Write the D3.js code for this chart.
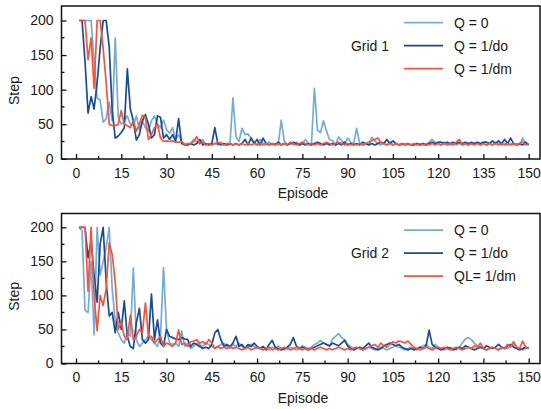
<!DOCTYPE html>
<html>
<head>
<meta charset="utf-8">
<script src="https://cdn.jsdelivr.net/npm/d3@7"></script>
<style>
  body { margin: 0; background: #fff; }
  svg { display: block; font-family: "Liberation Sans", Arial, sans-serif; }
  .tick text { font-size: 14px; fill: #1a1a1a; }
</style>
</head>
<body>
<svg id="chart" width="541" height="409"></svg>
<script>
// episodes 1..150
const episodes = d3.range(1, 151);
const xTicks = d3.range(0, 151, 15);
const yTicks = [0, 50, 100, 150, 200];

// Grid 1
const grid1Q0 = [
  200,200,200,200,200,140,88,85,53,58,
  82,55,175,60,50,55,62,50,48,62,
  42,55,45,40,55,62,50,45,56,42,
  37,45,28,35,25,22,20,22,28,25,
  22,28,20,22,20,22,20,24,20,22,
  20,88,32,25,44,35,36,30,24,20,
  28,22,20,24,20,22,20,56,26,20,
  22,20,24,20,22,28,22,20,102,42,
  38,55,40,28,26,20,32,26,22,30,
  24,22,44,22,20,22,20,31,26,22,
  20,22,20,24,20,22,20,20,22,20,
  21,20,22,20,22,20,24,28,24,22,
  20,24,22,20,22,20,22,20,22,20,
  22,20,24,20,22,20,22,20,24,22,
  20,22,20,22,20,22,20,30,22,20
];
const grid1Qdo = [
  200,200,140,66,90,72,110,160,200,200,
  162,70,30,33,38,45,130,72,55,27,
  35,55,64,50,30,35,62,60,30,35,
  28,35,25,58,22,20,20,22,20,22,
  28,20,22,20,22,45,22,20,22,20,
  22,20,22,20,22,28,20,30,22,28,
  20,30,22,20,22,20,24,20,22,20,
  22,24,22,20,22,20,22,20,22,24,
  22,20,22,20,22,20,22,20,24,20,
  22,20,22,20,24,22,20,22,20,22,
  24,22,28,22,26,22,20,22,20,22,
  20,20,22,20,22,20,22,24,22,24,
  24,22,24,22,24,22,24,22,24,22,
  24,22,24,22,24,24,22,26,22,26,
  22,28,22,30,22,20,22,20,24,20
];
const grid1Qdm = [
  200,200,200,143,175,102,200,200,160,110,
  50,48,48,50,70,50,48,45,55,40,
  50,63,60,28,35,45,50,30,25,26,
  25,26,24,24,25,20,22,22,25,32,
  22,24,20,22,20,22,24,22,20,22,
  22,20,22,20,22,20,22,20,22,20,
  22,20,22,20,22,20,22,20,22,20,
  24,22,20,22,24,22,20,22,20,22,
  20,22,24,22,20,22,24,22,20,22,
  20,22,20,22,20,22,24,26,28,30,
  24,22,20,22,20,22,20,22,20,22,
  20,22,20,22,20,22,20,22,20,22,
  20,22,20,22,20,24,28,20,22,20,
  22,20,22,20,22,20,22,20,22,20,
  22,20,22,20,22,20,22,24,20,22
];

// Grid 2
const grid2Q0 = [
  200,195,78,75,150,42,200,130,150,170,
  200,110,60,45,35,30,45,40,140,35,
  25,30,35,40,35,30,25,40,141,50,
  30,28,30,25,48,25,30,22,25,30,
  28,25,30,28,25,22,25,28,30,25,
  22,28,25,30,25,22,24,28,25,22,
  22,24,22,20,24,22,26,22,20,22,
  24,22,20,22,26,24,22,24,28,30,
  34,30,28,25,36,40,44,38,35,28,
  25,22,24,22,20,22,24,22,20,22,
  24,22,20,22,24,26,24,22,20,22,
  24,22,20,24,26,28,24,22,28,24,
  22,20,22,24,22,20,24,30,36,38,
  35,30,26,24,22,20,22,24,22,20,
  22,24,22,26,28,24,22,20,22,24
];
const grid2Qdo = [
  200,200,200,155,180,130,90,175,200,120,
  70,75,45,75,50,92,40,25,22,60,
  81,35,30,35,102,35,64,30,25,50,
  40,38,36,35,38,36,35,25,30,28,
  25,22,24,22,28,45,50,35,25,28,
  25,30,40,25,28,22,28,25,30,25,
  22,25,20,28,34,24,22,20,22,24,
  28,38,26,22,24,22,20,22,24,26,
  28,30,28,26,30,28,26,30,34,26,
  22,20,22,24,22,26,30,24,22,20,
  22,26,28,30,28,26,28,24,22,20,
  22,20,22,24,22,26,49,28,24,22,
  20,22,24,22,20,22,24,22,26,24,
  22,20,22,24,22,26,24,22,24,28,
  24,22,26,28,24,22,20,22,24,22
];
const grid2Qdm = [
  200,200,200,106,200,100,48,100,85,110,
  177,160,120,50,60,40,35,71,35,40,
  50,45,89,40,40,30,35,40,25,30,
  28,25,30,49,28,30,25,32,33,35,
  30,32,28,35,30,22,25,22,24,22,
  25,22,24,22,20,22,24,20,22,24,
  22,20,22,24,20,22,20,22,24,22,
  20,22,24,22,20,22,20,22,20,22,
  24,22,20,22,20,22,24,22,20,22,
  20,22,24,22,20,22,24,26,28,24,
  30,26,24,28,32,30,33,32,30,33,
  28,24,22,20,22,24,22,20,22,24,
  22,24,22,20,22,24,22,20,22,24,
  22,26,24,30,22,20,22,24,22,20,
  24,22,28,24,32,24,22,33,24,22
];

const colors = ["#74acd8", "#1a4b94", "#f4553c"];

const panels = [
  { name: "Grid 1", top: 6, bottom: 159, y0: 158.8, y200: 20.5,
    series: [grid1Q0, grid1Qdo, grid1Qdm], labels: ["Q = 0", "Q = 1/do", "Q = 1/dm"] },
  { name: "Grid 2", top: 213.5, bottom: 363.5, y0: 363.5, y200: 227.3,
    series: [grid2Q0, grid2Qdo, grid2Qdm], labels: ["Q = 0", "Q = 1/do", "QL= 1/dm"] }
];

const svg = d3.select("#chart");
const left = 61.5, right = 540;
const x = d3.scaleLinear().domain([0, 150]).range([76, 528.7]);

panels.forEach(p => {
  const y = d3.scaleLinear().domain([0, 200]).range([p.y0, p.y200]);
  const g = svg.append("g");

  // minor ticks
  g.selectAll(".xminor").data(d3.range(7.5, 150, 15)).enter().append("line")
    .attr("x1", d => x(d)).attr("x2", d => x(d))
    .attr("y1", p.bottom).attr("y2", p.bottom - 3)
    .attr("stroke", "#111").attr("stroke-width", 1.3);
  g.selectAll(".yminor").data(d3.range(25, 200, 50)).enter().append("line")
    .attr("x1", left).attr("x2", left + 3)
    .attr("y1", d => y(d)).attr("y2", d => y(d))
    .attr("stroke", "#111").attr("stroke-width", 1.3);

  const xAxis = g.append("g")
    .attr("transform", `translate(0,${p.bottom})`)
    .call(d3.axisBottom(x).tickValues(xTicks).tickSize(-5).tickPadding(9));
  const yAxis = g.append("g")
    .attr("transform", `translate(${left},0)`)
    .call(d3.axisLeft(y).tickValues(yTicks).tickSize(-5).tickPadding(8));
  [xAxis, yAxis].forEach(a => {
    a.select(".domain").remove();
    a.selectAll(".tick line").attr("stroke", "#111").attr("stroke-width", 1.3);
  });

  // lines
  const line = d3.line().x((d, i) => x(episodes[i])).y(d => y(d));
  p.series.forEach((s, i) => {
    g.append("path").datum(s)
      .attr("fill", "none")
      .attr("stroke", colors[i])
      .attr("stroke-width", 1.7)
      .attr("stroke-linejoin", "round")
      .attr("d", line);
  });

  // frame
  g.append("rect")
    .attr("x", left).attr("y", p.top)
    .attr("width", right - left).attr("height", p.bottom - p.top)
    .attr("fill", "none").attr("stroke", "#111").attr("stroke-width", 1.5);

  // legend
  const ly = p.top + 16.7;
  p.labels.forEach((lab, i) => {
    const yy = ly + i * 23;
    g.append("line")
      .attr("x1", 404).attr("x2", 443).attr("y1", yy).attr("y2", yy)
      .attr("stroke", colors[i]).attr("stroke-width", 1.8);
    g.append("text")
      .attr("x", 454).attr("y", yy).attr("dy", "0.35em")
      .attr("font-size", 14).attr("fill", "#1a1a1a")
      .text(lab);
  });
  g.append("text")
    .attr("x", 389).attr("y", ly + 23).attr("dy", "0.35em")
    .attr("text-anchor", "end").attr("font-size", 14).attr("fill", "#1a1a1a")
    .text(p.name);

  // axis titles
  g.append("text")
    .attr("x", 303).attr("y", p.bottom + 39)
    .attr("text-anchor", "middle").attr("font-size", 14).attr("fill", "#1a1a1a")
    .text("Episode");
  g.append("text")
    .attr("transform", `translate(19,${(p.y0 + p.y200) / 2 + 1}) rotate(-90)`)
    .attr("text-anchor", "middle").attr("font-size", 14).attr("fill", "#1a1a1a")
    .text("Step");
});
</script>
</body>
</html>
